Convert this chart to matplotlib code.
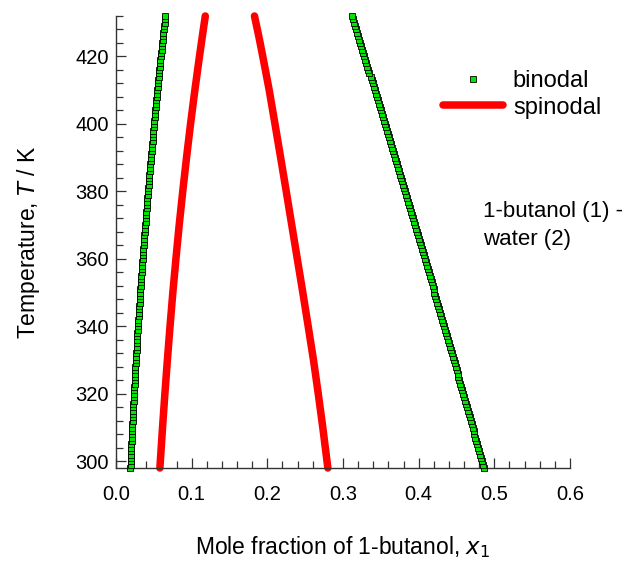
import matplotlib
matplotlib.use("Agg")
import matplotlib.pyplot as plt
from matplotlib.ticker import MultipleLocator

plt.rcParams['font.family'] = ['Liberation Sans', 'DejaVu Sans']

# binodal: one point per kelvin, 298 K .. 432 K
T_bin = list(range(298, 433))
x_bin_left = [
    0.0190, 0.0192, 0.0194, 0.0196, 0.0198, 0.0200, 0.0202, 0.0204, 0.0206, 0.0208,
    0.0210, 0.0212, 0.0214, 0.0217, 0.0219, 0.0221, 0.0223, 0.0226, 0.0228, 0.0230,
    0.0233, 0.0235, 0.0237, 0.0240, 0.0242, 0.0245, 0.0247, 0.0250, 0.0252, 0.0255,
    0.0257, 0.0260, 0.0263, 0.0265, 0.0268, 0.0271, 0.0273, 0.0276, 0.0279, 0.0282,
    0.0284, 0.0287, 0.0290, 0.0293, 0.0296, 0.0299, 0.0302, 0.0305, 0.0308, 0.0311,
    0.0314, 0.0317, 0.0320, 0.0323, 0.0326, 0.0329, 0.0332, 0.0336, 0.0339, 0.0342,
    0.0345, 0.0349, 0.0352, 0.0355, 0.0359, 0.0362, 0.0365, 0.0369, 0.0372, 0.0376,
    0.0379, 0.0383, 0.0386, 0.0390, 0.0394, 0.0397, 0.0401, 0.0404, 0.0408, 0.0412,
    0.0416, 0.0419, 0.0423, 0.0427, 0.0431, 0.0435, 0.0438, 0.0442, 0.0446, 0.0450,
    0.0454, 0.0458, 0.0462, 0.0466, 0.0470, 0.0474, 0.0478, 0.0483, 0.0487, 0.0491,
    0.0495, 0.0499, 0.0503, 0.0508, 0.0512, 0.0516, 0.0521, 0.0525, 0.0529, 0.0534,
    0.0538, 0.0543, 0.0547, 0.0552, 0.0556, 0.0561, 0.0565, 0.0570, 0.0574, 0.0579,
    0.0584, 0.0588, 0.0593, 0.0598, 0.0602, 0.0607, 0.0612, 0.0617, 0.0622, 0.0626,
    0.0631, 0.0636, 0.0641, 0.0646, 0.0651,
]
x_bin_right = [
    0.4860, 0.4848, 0.4836, 0.4823, 0.4811, 0.4799, 0.4787, 0.4774, 0.4762, 0.4750,
    0.4737, 0.4725, 0.4713, 0.4700, 0.4688, 0.4676, 0.4663, 0.4651, 0.4638, 0.4626,
    0.4614, 0.4601, 0.4589, 0.4576, 0.4564, 0.4551, 0.4539, 0.4526, 0.4514, 0.4501,
    0.4489, 0.4476, 0.4463, 0.4451, 0.4438, 0.4426, 0.4413, 0.4400, 0.4388, 0.4375,
    0.4362, 0.4350, 0.4337, 0.4324, 0.4312, 0.4299, 0.4286, 0.4273, 0.4261, 0.4248,
    0.4235, 0.4222, 0.4209, 0.4197, 0.4184, 0.4171, 0.4158, 0.4145, 0.4132, 0.4119,
    0.4106, 0.4093, 0.4081, 0.4068, 0.4055, 0.4042, 0.4029, 0.4016, 0.4003, 0.3990,
    0.3977, 0.3964, 0.3950, 0.3937, 0.3924, 0.3911, 0.3898, 0.3885, 0.3872, 0.3859,
    0.3846, 0.3832, 0.3819, 0.3806, 0.3793, 0.3780, 0.3766, 0.3753, 0.3740, 0.3727,
    0.3713, 0.3700, 0.3687, 0.3674, 0.3660, 0.3647, 0.3634, 0.3620, 0.3607, 0.3593,
    0.3580, 0.3567, 0.3553, 0.3540, 0.3526, 0.3513, 0.3499, 0.3486, 0.3472, 0.3459,
    0.3445, 0.3432, 0.3418, 0.3405, 0.3391, 0.3378, 0.3364, 0.3350, 0.3337, 0.3323,
    0.3310, 0.3296, 0.3282, 0.3269, 0.3255, 0.3241, 0.3228, 0.3214, 0.3200, 0.3186,
    0.3173, 0.3159, 0.3145, 0.3131, 0.3117,
]

# spinodal
T_spin = [298, 310, 320, 330, 340, 350, 360, 370, 380, 390, 400, 410, 420, 426, 432]
x_spin_left = [0.0580, 0.0615, 0.0646, 0.0679, 0.0714, 0.0751, 0.0792, 0.0835,
               0.0882, 0.0932, 0.0985, 0.1042, 0.1103, 0.1141, 0.1180]
x_spin_right = [0.2800, 0.2733, 0.2673, 0.2610, 0.2540, 0.2469, 0.2396, 0.2323,
                0.2250, 0.2176, 0.2101, 0.2025, 0.1940, 0.1887, 0.1830]

fig = plt.figure(figsize=(6.37, 5.61), dpi=100)
ax = fig.add_axes([116/637, 1-468/561, 454/637, 452/561])

green = '#00e600'
mk = dict(ls='none', marker='s', ms=3.8, mfc=green, mec='black', mew=0.6, clip_on=False, zorder=3)
ax.plot(x_bin_left, T_bin, label='binodal', **mk)
ax.plot(x_bin_right, T_bin, **mk)

ln = dict(color='#ff0000', lw=5.4, solid_capstyle='round', clip_on=False, zorder=2)
ax.plot(x_spin_left, T_spin, label='spinodal', **ln)
ax.plot(x_spin_right, T_spin, **ln)

ax.set_xlim(0, 0.6)
ax.set_ylim(298, 432)
ax.xaxis.set_major_locator(MultipleLocator(0.1))
ax.xaxis.set_minor_locator(MultipleLocator(0.02))
ax.yaxis.set_major_locator(MultipleLocator(20))
ax.yaxis.set_minor_locator(MultipleLocator(4))
ax.set_xticks([0.0, 0.1, 0.2, 0.3, 0.4, 0.5, 0.6])
ax.set_xticklabels(['0.0', '0.1', '0.2', '0.3', '0.4', '0.5', '0.6'])

for s in ['top', 'right']:
    ax.spines[s].set_visible(False)
for s in ['left', 'bottom']:
    ax.spines[s].set_linewidth(1.0)
    ax.spines[s].set_color('#333333')
ax.tick_params(which='major', direction='in', length=7.5, width=0.9, color='#333333',
               labelsize=14.5)
ax.tick_params(axis='x', which='major', pad=12)
ax.tick_params(axis='y', which='major', pad=5)
ax.tick_params(which='minor', direction='in', length=5, width=0.9, color='#333333')

ax.set_xlabel('Mole fraction of 1-butanol, $\\mathit{x}_1$', fontsize=16.5, labelpad=22)
ax.set_ylabel('Temperature, $\\mathit{T}$ / K', fontsize=16.5, labelpad=24)

leg = ax.legend(loc='upper left', bbox_to_anchor=(431/637, 1-58/561),
                bbox_transform=fig.transFigure, frameon=False, fontsize=17,
                handlelength=2.55, borderpad=0, handletextpad=0.42, labelspacing=0.2,
                markerscale=1.0, numpoints=1)

fig.text(483/637, 1-201/561, '1-butanol (1) -\nwater (2)', fontsize=16,
         ha='left', va='top', linespacing=1.45)

fig.savefig('out.png', dpi=100)
